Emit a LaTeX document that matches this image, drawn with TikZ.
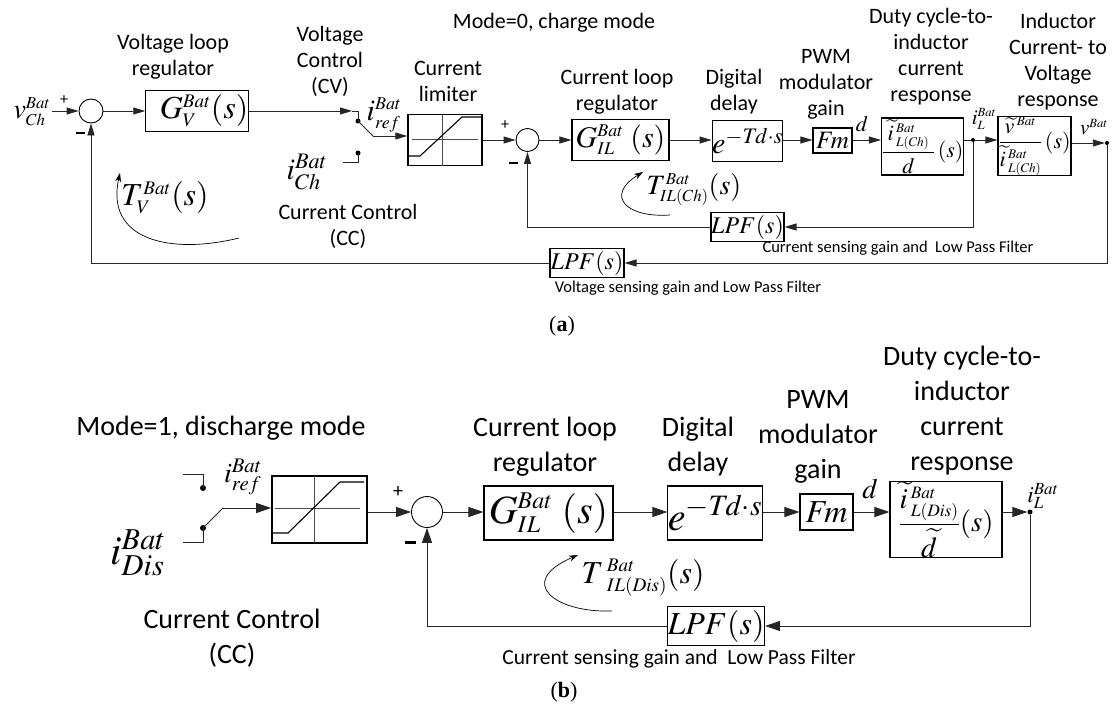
\documentclass[tikz,border=0pt]{standalone}
\usepackage{amsmath}
\usepackage{mathptmx}
\usepackage[no-math]{fontspec}
\setmainfont{Carlito}
\newfontfamily\capfont{Liberation Serif}
\usetikzlibrary{arrows.meta, calc}
\newcommand{\fs}[1]{\fontsize{#1}{#1}\selectfont}
\newcommand{\ix}[1]{{\scriptscriptstyle #1}}
\tikzset{
    blk/.style={draw=black, line width=1.1pt, inner sep=0pt, fill=white},
    sumnode/.style={circle, draw=black, line width=0.9pt, inner sep=0pt, fill=white},
    wire/.style={line width=0.9pt, draw=black!85},
    arr/.style={wire, -{Triangle[length=12pt, width=7pt]}},
    arrB/.style={wire, -{Triangle[length=15pt, width=10pt]}},
    looparrow/.style={line width=0.7pt, -{Stealth[length=9pt, width=6pt]}},
    junc/.style={circle, fill=black, inner sep=0pt, minimum size=5pt},
    lbl/.style={align=center, inner sep=1pt, font=\fontsize{22}{26}\selectfont},
    lblB/.style={align=center, inner sep=1pt, font=\fontsize{28}{35}\selectfont},
    capt/.style={inner sep=1pt, font=\fontsize{16.5}{20}\selectfont},
    capB/.style={inner sep=1pt, font=\fontsize{21.5}{26}\selectfont},
    mlab/.style={inner sep=1pt},
    sgn/.style={inner sep=0pt},
    limaxis/.style={line width=0.6pt, draw=black!70},
    limcurve/.style={line width=1.1pt},
}

\begin{document}
\begin{tikzpicture}[x=1pt, y=-1pt]
    \useasboundingbox (0,0) rectangle (1116,709);

    % ===== (a) charge mode =====
    % Nodes
    \node[mlab, font=\fs{28}] (vCh) at (32,112) {$v_\ix{Ch}^\ix{Bat}$};
    \node[sumnode, minimum size=24pt] (sumV) at (91,111) {};
    \node[blk, minimum width=100pt, minimum height=41pt, font=\fs{32}] (Gv) at (197,111) {\hspace{14pt}$G_\ix{V}^\ix{Bat}(s)$};
    \coordinate (swArr) at (352,111);
    \coordinate (swIn) at (358,111);
    \node[junc] (swCV) at (358,121) {};
    \node[junc] (swCC) at (358,153) {};
    \coordinate (swKnee) at (373,136);
    \coordinate (swCCend) at (343,162);
    \node[blk, line width=1.4pt, minimum width=74pt, minimum height=51pt] (limA) at (445,140) {};
    \node[sumnode, minimum size=23pt] (sumIa) at (527.5,140) {};
    \node[blk, minimum width=97pt, minimum height=41pt, font=\fs{30}] (GilA) at (620.5,140) {$G_\ix{IL}^\ix{Bat}\ (s)$};
    \node[blk, minimum width=65pt, minimum height=41pt, font=\fs{30}] (dlyA) at (747.5,141) {$e^{{-}T\!d{\cdot}s}$};
    \node[blk, minimum width=39pt, minimum height=25pt, font=\fs{25}] (FmA) at (832.5,140.5) {$F\!m$};
    \node[blk, minimum width=81pt, minimum height=57pt, font=\fs{22}] (respA) at (922.5,146.5)
        {$\dfrac{\;\widetilde{i}\,{}^\ix{Bat}_\ix{L(Ch)}\;}{d}\,(s)$};
    \node[junc, minimum size=4pt] (iLa) at (973,140) {};
    \node[blk, minimum width=73pt, minimum height=58pt, font=\fs{22}] (indA) at (1034.5,146)
        {$\dfrac{\widetilde{v}\,{}^\ix{Bat}}{\widetilde{i}\,{}^\ix{Bat}_\ix{L(Ch)}}\,(s)$};
    \node[junc, minimum size=4pt] (vout) at (1107,143) {};
    \node[blk, minimum width=73pt, minimum height=29pt, font=\fs{24}] (lpfIa) at (747.5,227) {$LPF(s)$};
    \node[blk, minimum width=74pt, minimum height=29pt, font=\fs{24}] (lpfVa) at (587,263) {$LPF(s)$};

    % limiter curve
    \draw[limaxis] (442,114.5) -- (442,165.5);
    \draw[limaxis] (412,139) -- (478,139);
    \draw[limcurve] (408.5,156) -- (420,156) -- (462,117) -- (481,117);

    % Labels
    \node[lbl] (lVreg) at (173,57) {Voltage loop\\regulator};
    \node[lbl] (lCV) at (330,61) {Voltage\\Control\\(CV)};
    \node[lbl] (lLimA) at (448,81) {Current\\limiter};
    \node[lbl] (lModeA) at (554,23) {Mode=0, charge mode};
    \node[lbl] (lIregA) at (617,92) {Current loop\\regulator};
    \node[lbl] (lDlyA) at (734,92) {Digital\\delay};
    \node[lbl] (lPwmA) at (826,84) {PWM\\modulator\\gain};
    \node[lbl] (lDutyA) at (931,57) {Duty cycle-to-\\inductor\\current\\response};
    \node[lbl] (lInd) at (1058,62) {Inductor\\Current- to\\Voltage\\response};
    \node[lbl] (lCCa) at (348,226) {Current Control\\(CC)};
    \node[capt] (cIa) at (898,248) {Current sensing gain and\ \ Low Pass Filter};
    \node[capt] (cVa) at (688,288) {Voltage sensing gain and Low Pass Filter};
    \node[font=\capfont\fs{22}] (capA) at (562,326) {(\textbf{a})};

    \node[mlab, font=\fs{30}] (irefA) at (384,115) {$i_\ix{ref}^\ix{Bat}$};
    \node[mlab, font=\fs{30}] (iChA) at (307,172) {$i_{Ch}^{Bat}$};
    \node[mlab, font=\fs{32}] (TvA) at (165,198) {$T_\ix{V}^\ix{Bat}(s)$};
    \node[mlab, font=\fs{28}] (TilA) at (694,190) {$T_\ix{IL(Ch)}^\ix{Bat}(s)$};
    \node[mlab, font=\fs{21}] (iLlblA) at (984,119) {$i_\ix{L}^\ix{Bat}$};
    \node[mlab, font=\fs{21}] (vlblA) at (1094,127) {$v^\ix{Bat}$};
    \node[mlab, font=\fs{22}] (dA) at (862,124) {$d$};
    \node[sgn, font=\fs{16}] (pV) at (64,100) {+};
    \node[sgn] (mV) at (80,133) {\rule{9pt}{2.6pt}};
    \node[sgn, font=\fs{16}] (pIa) at (505,125) {+};
    \node[sgn] (mIa) at (513,163) {\rule{9pt}{2.6pt}};

    % Connections
    \draw[arr] (vCh.east |- sumV) -- (sumV.west);
    \draw[arr] (sumV.east) -- (Gv.west);
    \draw[arr] (Gv.east) -- (swArr);
    \draw[wire] (swArr) -- (swIn) -- (swCV.center);
    \draw[wire] (swCV.center) -- (swKnee);
    \draw[arr] (swKnee) -- (swKnee -| limA.west);
    \draw[wire] (swCCend) -| (swCC.center);
    \draw[arr] (limA.east) -- (sumIa.west);
    \draw[arr] (sumIa.east) -- (GilA.west);
    \draw[arr] (GilA.east) -- (dlyA.west |- GilA.east);
    \draw[arr] (dlyA.east |- GilA.east) -- (FmA.west |- GilA.east);
    \draw[arr] (FmA.east |- GilA.east) -- (respA.west |- GilA.east);
    \draw[wire] (respA.east |- iLa) -- (iLa);
    \draw[arr] (iLa) -- (iLa -| indA.west);
    \draw[arr] (indA.east |- vout) -- (vout);
    \draw[arr] (iLa) |- (lpfIa.east);
    \draw[arr] (lpfIa.west) -| (sumIa.south);
    \draw[arr] (vout) |- (lpfVa.east);
    \draw[arr] (lpfVa.west) -| (sumV.south);

    \draw[looparrow] (239,238) .. controls (170,255) and (105,240) .. (120,173);
    \draw[looparrow] (670,215) .. controls (625,218) and (605,195) .. (643,172);

    % ===== (b) discharge mode =====
    % Nodes
    \node[junc, minimum size=6pt] (swRef) at (203,488) {};
    \node[junc, minimum size=6pt] (swDis) at (203,528) {};
    \coordinate (swRefEnd) at (183,474);
    \coordinate (swDisEnd) at (183,542);
    \coordinate (swKneeB) at (223,508);
    \node[blk, line width=1.6pt, minimum width=95pt, minimum height=67pt] (limB) at (319.5,509.5) {};
    \node[sumnode, minimum size=31pt] (sumB) at (427,512) {};
    \node[blk, minimum width=129pt, minimum height=54pt, font=\fs{40}] (GilB) at (548.5,513) {$G_\ix{IL}^\ix{Bat}\ (s)$};
    \node[blk, minimum width=86pt, minimum height=54pt, font=\fs{40}] (dlyB) at (715,513) {$e^{{-}T\!d{\cdot}s}$};
    \node[blk, minimum width=53pt, minimum height=36pt, font=\fs{32}] (FmB) at (826.5,512) {$F\!m$};
    \node[blk, minimum width=112pt, minimum height=75pt, font=\fs{29}] (respB) at (946,519.5)
        {$\dfrac{\widetilde{i}\,{}^\ix{Bat}_\ix{L(Dis)}}{\widetilde{d}}(s)$};
    \node[junc] (iLb) at (1030,512) {};
    \node[blk, minimum width=96pt, minimum height=39pt, font=\fs{32}] (lpfB) at (716,626) {$LPF(s)$};

    % limiter curve
    \draw[limaxis] (314,476) -- (314,543);
    \draw[limaxis] (275,508) -- (360,508);
    \draw[limcurve] (272.5,533) -- (288,533) -- (340,482) -- (364,482);

    % Labels
    \node[lblB] (lModeB) at (221,428) {Mode=1, discharge mode};
    \node[lblB] (lIregB) at (545,447) {Current loop\\regulator};
    \node[lblB] (lDlyB) at (698,447) {Digital\\delay};
    \node[lblB] (lPwmB) at (818,437) {PWM\\modulator\\gain};
    \node[lblB] (lDutyB) at (962,411) {Duty cycle-to-\\inductor\\current\\response};
    \node[lblB] (lCCb) at (232,638) {Current Control\\(CC)};
    \node[capB] (cIb) at (679,659) {Current sensing gain and\ \ Low Pass Filter};
    \node[font=\capfont\fs{22}] (capB) at (564,692) {(\textbf{b})};

    \node[mlab, font=\fs{28}] (irefB) at (243,477) {$i_{ref}^{Bat}$};
    \node[mlab, font=\fs{41}] (iDisB) at (138,553) {$i_{Dis}^{Bat}$};
    \node[mlab, font=\fs{28}] (dB) at (870,489) {$d$};
    \node[mlab, font=\fs{23}] (iLlblB) at (1043,496) {$i_L^{Bat}$};
    \node[mlab, font=\fs{32}] (TilB) at (643,578) {$T\,{}^\ix{Bat}_\ix{IL(Dis)}(s)$};
    \node[sgn, font=\fs{20}] (pB) at (398,492) {+};
    \node[sgn] (mB) at (410,542) {\rule{11pt}{3pt}};

    % Connections
    \draw[wire] (swRefEnd) -| (swRef.center);
    \draw[wire] (swDisEnd) -| (swDis.center);
    \draw[wire] (swDis.center) -- (swKneeB);
    \draw[arrB] (swKneeB) -- (swKneeB -| limB.west);
    \draw[arrB] (limB.east |- sumB) -- (sumB.west);
    \draw[arrB] (sumB.east) -- (sumB.east -| GilB.west);
    \draw[arrB] (GilB.east |- sumB) -- (dlyB.west |- sumB);
    \draw[arrB] (dlyB.east |- sumB) -- (FmB.west |- sumB);
    \draw[arrB] (FmB.east |- sumB) -- (respB.west |- sumB);
    \draw[arrB] (respB.east |- sumB) -- (iLb);
    \draw[arrB] (iLb) |- (lpfB.east);
    \draw[arrB] (lpfB.west) -| (sumB.south);

    \draw[looparrow] (612,611) .. controls (555,613) and (515,582) .. (578,555);
\end{tikzpicture}
\end{document}
